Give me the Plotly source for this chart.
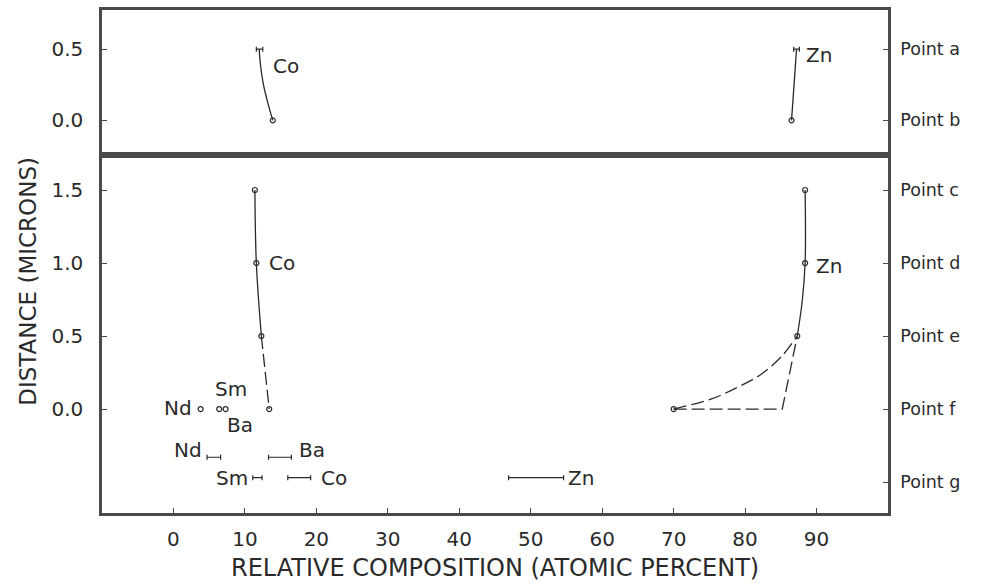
import plotly.graph_objects as go

# ---------------- data ----------------
# upper panel: points a (0.5) and b (0.0)
top_co_x = [12.0, 12.2, 12.6, 13.2, 13.9]
top_co_y = [0.5, 0.38, 0.25, 0.125, 0.0]
top_zn_x = [87.2, 86.5]
top_zn_y = [0.5, 0.0]
top_bar_lo = [11.6, 86.8]
top_bar_hi = [12.5, 87.6]
top_bar_y = [0.5, 0.5]

# lower panel: points c (1.5) ... f (0.0), g (-0.5)
co_solid_x = [11.4, 11.6, 12.3]
co_solid_y = [1.5, 1.0, 0.5]
co_dash_x = [12.3, 13.4]
co_dash_y = [0.5, 0.0]
zn_solid_x = [88.4, 88.4, 88.0, 87.3]
zn_solid_y = [1.5, 1.0, 0.74, 0.5]
zn_curve_x = [70.0, 75.3, 79.0, 82.3, 85.1, 87.3]
zn_curve_y = [0.0, 0.07, 0.15, 0.24, 0.36, 0.5]
zn_corner_x = [70.0, 85.2, 87.3]
zn_corner_y = [0.0, 0.0, 0.5]
pt_x = [11.4, 11.6, 12.3, 13.4, 88.4, 88.4, 87.3, 70.0, 3.8, 6.4, 7.3]
pt_y = [1.5, 1.0, 0.5, 0.0, 1.5, 1.0, 0.5, 0.0, 0.0, 0.0, 0.0]

bar_lo = [4.7, 13.3, 11.1, 16.0, 46.9]
bar_hi = [6.6, 16.5, 12.4, 19.2, 54.6]
bar_y = [-0.33, -0.33, -0.47, -0.47, -0.47]

top_lab = ["Co", "Zn"]
top_lab_x = [15.8, 90.4]
top_lab_y = [0.38, 0.46]
bot_lab = ["Co", "Zn", "Nd", "Sm", "Ba", "Nd", "Ba", "Sm", "Co", "Zn"]
bot_lab_x = [15.2, 91.7, 0.6, 8.1, 9.3, 2.0, 19.4, 8.2, 22.4, 57.1]
bot_lab_y = [1.0, 0.98, 0.01, 0.14, -0.11, -0.28, -0.28, -0.475, -0.47, -0.47]

x_ticks = [0, 10, 20, 30, 40, 50, 60, 70, 80, 90]
left_bot_ticks = [0.0, 0.5, 1.0, 1.5]
left_top_ticks = [0.0, 0.5]
right_bot_ticks = [1.5, 1.0, 0.5, 0.0, -0.5]
right_bot_text = ["Point c", "Point d", "Point e", "Point f", "Point g"]
right_top_ticks = [0.5, 0.0]
right_top_text = ["Point a", "Point b"]

# ---------------- styling ----------------
FONT = "DejaVu Sans"
INK = "#2a2a2a"
FRAME = "#4a4a4a"
LW = 1.3
DASH = "13px,5px"

fig = go.Figure()

def line(x, y, xa, ya, dash="solid", shape="spline", smoothing=1.0):
    fig.add_trace(go.Scatter(x=x, y=y, mode="lines", xaxis=xa, yaxis=ya,
                             line=dict(color=INK, width=LW, dash=dash, shape=shape,
                                       smoothing=smoothing),
                             hoverinfo="skip", showlegend=False))

def bars(lo, hi, y, xa, ya):
    mid = [(a + b) / 2 for a, b in zip(lo, hi)]
    half = [(b - a) / 2 for a, b in zip(lo, hi)]
    fig.add_trace(go.Scatter(x=mid, y=y, mode="markers", xaxis=xa, yaxis=ya,
                             marker=dict(size=1, color="rgba(0,0,0,0)"),
                             error_x=dict(type="data", array=half, symmetric=True,
                                          color=INK, thickness=1.2, width=2.5),
                             hoverinfo="skip", showlegend=False))

# upper panel
line(top_co_x, top_co_y, "x2", "y2", smoothing=1.3)
line(top_zn_x, top_zn_y, "x2", "y2", shape="linear")
bars(top_bar_lo, top_bar_hi, top_bar_y, "x2", "y2")
fig.add_trace(go.Scatter(x=[top_co_x[-1], top_zn_x[-1]], y=[top_co_y[-1], top_zn_y[-1]],
                         mode="markers", xaxis="x2", yaxis="y2",
                         marker=dict(symbol="circle-open", size=5, color=INK,
                                     line=dict(width=1.2)),
                         hoverinfo="skip", showlegend=False))

# lower panel
line(co_solid_x, co_solid_y, "x", "y")
line(co_dash_x, co_dash_y, "x", "y", dash=DASH, shape="linear")
line(zn_solid_x, zn_solid_y, "x", "y")
line(zn_curve_x, zn_curve_y, "x", "y", dash=DASH)
line(zn_corner_x, zn_corner_y, "x", "y", dash=DASH, shape="linear")
fig.add_trace(go.Scatter(x=pt_x, y=pt_y, mode="markers", xaxis="x", yaxis="y",
                         marker=dict(symbol="circle-open", size=5, color=INK,
                                     line=dict(width=1.2)),
                         hoverinfo="skip", showlegend=False))
bars(bar_lo, bar_hi, bar_y, "x", "y")

# dummy traces so right-hand axes are drawn
fig.add_trace(go.Scatter(x=[None], y=[None], xaxis="x", yaxis="y3", showlegend=False))
fig.add_trace(go.Scatter(x=[None], y=[None], xaxis="x2", yaxis="y4", showlegend=False))

for t, xx, yy in zip(top_lab, top_lab_x, top_lab_y):
    fig.add_annotation(x=xx, y=yy, xref="x2", yref="y2", text=t, showarrow=False,
                       font=dict(family=FONT, size=20, color=INK))
for t, xx, yy in zip(bot_lab, bot_lab_x, bot_lab_y):
    fig.add_annotation(x=xx, y=yy, xref="x", yref="y", text=t, showarrow=False,
                       font=dict(family=FONT, size=20, color=INK))

fig.add_annotation(x=-0.094, y=0.46, xref="paper", yref="paper",
                   text="DISTANCE (MICRONS)", textangle=-90, showarrow=False,
                   xanchor="center", yanchor="middle",
                   font=dict(family=FONT, size=23, color=INK))
fig.add_annotation(x=0.5, y=-0.11, xref="paper", yref="paper",
                   text="RELATIVE COMPOSITION (ATOMIC PERCENT)", showarrow=False,
                   xanchor="center", yanchor="middle",
                   font=dict(family=FONT, size=24, color=INK))

XR = [-10, 100]
YB = [-0.712, 1.739]
YT = [-0.244, 0.775]
SPLIT = 0.7115

axis_common = dict(showgrid=False, zeroline=False, showline=True, linecolor=FRAME,
                   linewidth=2.5, ticks="inside", ticklen=5, tickwidth=1.2,
                   tickcolor=FRAME, tickfont=dict(family=FONT, size=20, color=INK))
right_font = dict(family=FONT, size=17.5, color=INK)

fig.update_layout(
    width=983, height=587,
    margin=dict(l=102, r=95, t=7, b=74),
    paper_bgcolor="white", plot_bgcolor="white",
    xaxis=dict(domain=[0, 1], range=XR, anchor="y", tickvals=x_ticks,
               ticklabelstandoff=6, mirror=True, **axis_common),
    yaxis=dict(domain=[0, SPLIT], range=YB, anchor="x", tickvals=left_bot_ticks,
               ticktext=["0.0", "0.5", "1.0", "1.5"], ticklabelstandoff=12,
               mirror=True, **axis_common),
    yaxis3=dict(overlaying="y", side="right", range=YB, anchor="x",
                tickvals=right_bot_ticks, ticktext=right_bot_text,
                ticklabelstandoff=6, **{**axis_common, "tickfont": right_font}),
    xaxis2=dict(domain=[0, 1], range=XR, anchor="y2", showticklabels=False,
                mirror=True, **{**axis_common, "ticks": ""}),
    yaxis2=dict(domain=[SPLIT, 1], range=YT, anchor="x2", tickvals=left_top_ticks,
                ticktext=["0.0", "0.5"], ticklabelstandoff=12, mirror=True,
                **axis_common),
    yaxis4=dict(overlaying="y2", side="right", range=YT, anchor="x2",
                tickvals=right_top_ticks, ticktext=right_top_text,
                ticklabelstandoff=6, **{**axis_common, "tickfont": right_font}),
)

fig.write_html("out.html")
